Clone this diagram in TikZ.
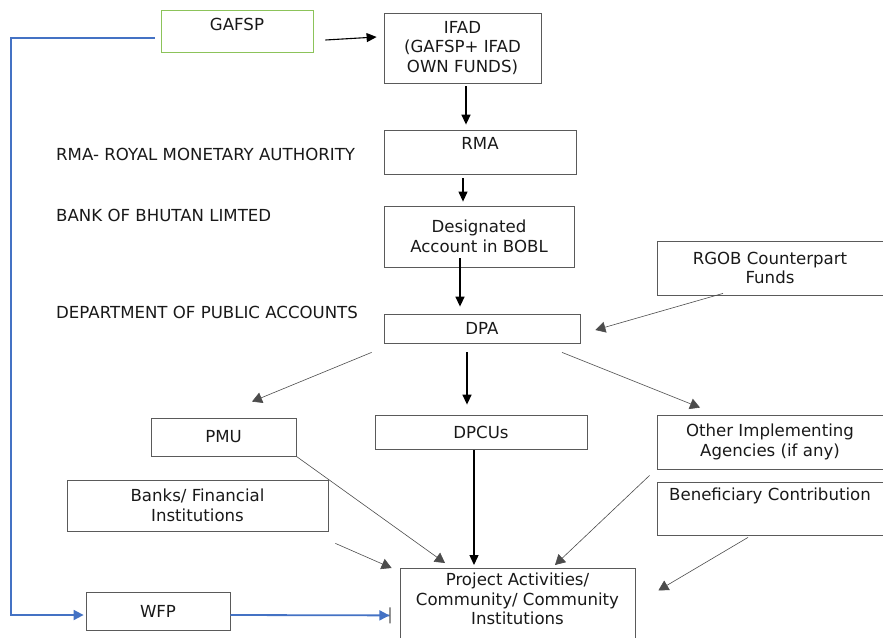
\documentclass[tikz,border=0pt]{standalone}
\usepackage{fontspec}
\setmainfont{DejaVu Sans}
\usetikzlibrary{arrows.meta,calc}
\definecolor{bfblue}{RGB}{68,114,196}
\definecolor{bfgreen}{RGB}{140,195,90}
\definecolor{bfgray}{RGB}{90,90,90}
\begin{document}
\begin{tikzpicture}[x=1pt,y=-1pt,
  every node/.style={font=\fontsize{16.6}{19.5}\selectfont, text=black!90},
  box/.style={draw=bfgray, line width=0.8pt, rectangle, inner sep=0pt, align=center},
  lbl/.style={anchor=west, inner sep=0pt},
  thinarr/.style={draw=black!70, line width=0.6pt, -{Triangle[length=10pt,width=11pt]}},
  thickarr/.style={draw=black, line width=1.4pt, -{Triangle[length=10pt,width=9pt]}},
  bluearr/.style={draw=bfblue, line width=1.8pt}
]
\useasboundingbox (0,0) rectangle (883,637);
% boxes
\node[box, draw=bfgreen, minimum width=152pt, minimum height=42pt,
  label={[anchor=north, inner sep=0pt, yshift=-8pt]north:GAFSP}] (gafsp) at (237,31) {};
\node[box, minimum width=157pt, minimum height=70pt] (ifad) at (462.5,48) {IFAD\\(GAFSP+ IFAD\\OWN FUNDS)};
\node[box, minimum width=192pt, minimum height=44pt,
  label={[anchor=north, inner sep=0pt, yshift=-8pt]north:RMA}] (rma) at (480,152) {};
\node[box, minimum width=190pt, minimum height=61pt] (da) at (479,236.5) {Designated\\Account in BOBL};
\node[box, minimum width=226pt, minimum height=54pt] (rgob) at (770,268) {RGOB Counterpart\\Funds};
\node[box, minimum width=196pt, minimum height=29pt] (dpa) at (482,328.5) {DPA};
\node[box, minimum width=145pt, minimum height=38pt] (pmu) at (223.5,437) {PMU};
\node[box, minimum width=212pt, minimum height=34pt] (dpcu) at (481,432) {DPCUs};
\node[box, minimum width=226pt, minimum height=54pt] (other) at (770,442) {Other Implementing\\Agencies (if any)};
\node[box, minimum width=261pt, minimum height=51pt] (banks) at (197.5,505.5) {Banks/ Financial\\Institutions};
\node[box, minimum width=226pt, minimum height=53pt,
  label={[anchor=north, inner sep=0pt, yshift=-6pt]north:Beneficiary Contribution}] (benef) at (770,508.5) {};
\node[box, minimum width=235pt, minimum height=80pt, anchor=north] (proj) at (517.5,568) {};
\node[anchor=north, inner sep=0pt, align=center] (projtxt) at (517.5,573) {Project Activities/\\Community/ Community\\Institutions};
\node[box, minimum width=144pt, minimum height=38pt] (wfp) at (158,611) {WFP};
% side labels
\node[lbl] (l1) at (56,154) {RMA- ROYAL MONETARY AUTHORITY};
\node[lbl] (l2) at (56,215) {BANK OF BHUTAN LIMTED};
\node[lbl] (l3) at (56,312) {DEPARTMENT OF PUBLIC ACCOUNTS};
% connectors
\draw[thickarr, line width=1.1pt] ($(gafsp.east)+(12,9)$) -- ($(ifad.west)+(-7,-11)$);
\draw[thickarr] ($(ifad.south)+(3.5,3)$) -- ($(rma.north)+(-14,-5)$);
\draw[thickarr, line width=1.1pt] ($(rma.south)+(-17,4)$) -- ($(da.north)+(-16,-4)$);
\draw[thickarr] ($(da.south)+(-19,-9)$) -- ($(dpa.north)+(-22,-7)$);
\draw[thinarr] ($(rgob.south)+(-47,-2)$) -- ($(dpa.east)+(15,1.5)$);
\draw[thinarr] ($(dpa.south west)+(-12,9)$) -- ($(pmu.north)+(28.5,-16)$);
\draw[thickarr] ($(dpa.south)+(-15,9)$) -- ($(dpcu.north)+(-14,-10)$);
\draw[thinarr] ($(dpa.south)+(80,9)$) -- ($(other.north)+(-70,-7)$);
\draw[thinarr] (pmu.south east) -- ($(proj.north)+(-72.5,-5)$);
\draw[thickarr] ($(dpcu.south)+(-7,1)$) -- ($(proj.north)+(-43.5,-3)$);
\draw[thinarr] ($(other.south west)+(-7,6)$) -- ($(proj.north)+(37.5,-3)$);
\draw[thinarr] ($(banks.south east)+(7,12)$) -- ($(proj.north west)+(-8,0)$);
\draw[thinarr] ($(benef.south)+(-22,2)$) -- ($(proj.east)+(23,-18)$);
% blue WFP path
\coordinate (corner) at (11,38);
\draw[bluearr, -{Triangle[length=10pt,width=10pt]}] ($(gafsp.west)+(-6,7)$) -- (corner) |- ($(wfp.west)+(-2,4)$);
\draw[bluearr, -{Triangle[length=10pt,width=10pt] Bar[width=16pt,line width=1.2pt,color=bfgray]}] ($(wfp.east)+(0,4)$) -- ($(proj.west)+(-9,7)$);
\end{tikzpicture}
\end{document}
